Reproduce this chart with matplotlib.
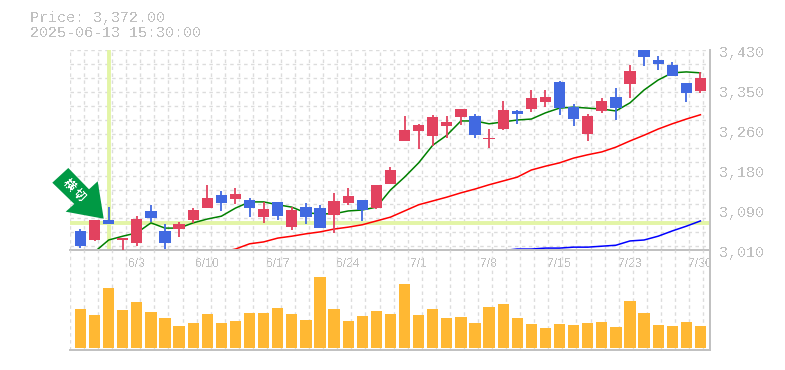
import numpy as np
import matplotlib
matplotlib.use("Agg")
import matplotlib.pyplot as plt
from matplotlib.patches import Polygon
from matplotlib.transforms import Affine2D

plt.rcParams["text.antialiased"] = False

# candles
opens = [3050,3032,3074,3030,3025,3092,3050,3055,3074,3099,3125,3117,3115,3080,3111,
         3059,3100,3098,3083,3109,3115,3098,3149,3239,3260,3249,3270,3289,3291,3243,
         3264,3302,3306,3321,3363,3310,3254,3302,3331,3359,3445,3409,3399,3361,3344]
closes = [3019,3073,3065,3035,3075,3078,3025,3065,3094,3119,3109,3128,3099,3096,3081,
          3094,3079,3056,3113,3123,3094,3146,3178,3262,3272,3289,3279,3306,3251,3245,
          3304,3296,3329,3331,3308,3285,3291,3323,3308,3386,3415,3401,3375,3340,3372]
highs = [3054,3073,3100,3035,3081,3104,3065,3069,3098,3146,3134,3140,3119,3111,3111,
         3101,3109,3105,3130,3140,3115,3146,3184,3291,3275,3294,3291,3306,3296,3264,
         3323,3304,3346,3346,3365,3317,3296,3329,3350,3399,3450,3417,3405,3361,3384]
lows = [3015,3029,3065,3009,3018,3069,3013,3038,3067,3099,3092,3107,3079,3067,3073,
        3052,3065,3056,3046,3105,3071,3096,3149,3239,3222,3228,3245,3272,3245,3224,
        3262,3275,3300,3310,3294,3270,3239,3298,3283,3329,3396,3388,3375,3321,3340]
volumes = [39,33,60,38,46,36,30,22,25,34,25,27,35,35,40,34,28,71,39,27,32,37,34,
           64,33,39,30,31,25,41,44,30,24,20,24,23,25,26,21,47,35,23,22,26,22]

nan = float("nan")
ma_short = [nan,3006,3031,3039,3046,3067,3056,3056,3067,3075,3081,3098,3111,3111,3105,
            3100,3088,3086,3086,3092,3094,3100,3136,3163,3193,3230,3251,3281,3281,3275,
            3279,3283,3285,3298,3308,3310,3308,3306,3302,3319,3346,3367,3382,3384,3382]
ma_mid = [nan]*10 + [3006,3012,3023,3027,3035,3039,3044,3048,3054,3058,3063,3071,3079,3092,
                     3105,3113,3121,3130,3138,3147,3155,3163,3178,3186,3193,3203,3210,
                     3216,3226,3239,3251,3264,3275,3285,3294]
ma_long = [nan]*30 + [3009,3012,3012,3014,3014,3016,3016,3018,3020,3029,3031,3039,3050,3060,3071]

date_pos = [4,9,14,19,24,29,34,39,44]
date_labels = ["6/3","6/10","6/17","6/24","7/1","7/8","7/15","7/23","7/30"]
price_ticks = [3430,3346,3262,3178,3094,3010]
price_labels = ["3,430","3,350","3,260","3,180","3,090","3,010"]
mark_index = 2
mark_price = 3066

W, H = 785, 370
GREY = "#c0c0c0"
GRID = "#dcdcdc"
MONO = "Liberation Mono"

fig = plt.figure(figsize=(W/100, H/100), dpi=100)

def px_axes(x0, y0, x1, y1):
    return fig.add_axes([x0/W, 1-y1/H, (x1-x0)/W, (y1-y0)/H])

ax = px_axes(70, 50, 710, 250)
vol = px_axes(70, 250, 710, 350)
vol.patch.set_alpha(0)

x = np.arange(len(opens))
xlim = (-0.745, 44.68)
grid_x = np.arange(xlim[0], xlim[1], 14.07/14.09)

ax.set_xlim(xlim)
ax.set_ylim(3010, 3430)
vol.set_xlim(xlim)
vol.set_ylim(-2, 98)

for a in (ax, vol):
    for s in ("top", "left"):
        a.spines[s].set_visible(False)
    for s in ("right", "bottom"):
        a.spines[s].set_color(GREY)
        a.spines[s].set_linewidth(1.4)
    a.set_xticks(grid_x, minor=True)
    a.grid(True, which="minor", axis="x", color=GRID, lw=1, ls=(0, (2.5, 2.5)), zorder=0)
    a.tick_params(which="both", length=0)
    a.set_axisbelow(True)
    a.set_yticks([])

# horizontal grid every 14 px
grid_y = np.arange(3430, 3010, -29.4)
for v in grid_y:
    ax.axhline(v, color=GRID, lw=1, ls=(0, (2.5, 2.5)), zorder=0)

ax.axhline(mark_price, color="#e3f5a6", lw=2.8, zorder=1)
ax.axvline(mark_index, color="#e3f5a6", lw=2.8, zorder=1)

ax.plot(x, ma_short, color="#008000", lw=1.1, zorder=2)
ax.plot(x, ma_mid, color="#ff0000", lw=1.1, zorder=2)
ax.plot(x, ma_long, color="#0000ff", lw=1.1, zorder=2)

colors = ["#e2425f" if c >= o else "#4169e1" for o, c in zip(opens, closes)]
ax.vlines(x, lows, highs, colors=colors, lw=1.3, zorder=3)
ax.bar(x, np.abs(np.array(closes)-np.array(opens)), bottom=np.minimum(opens, closes),
       width=0.8, color=colors, zorder=3, antialiased=False)

vol.bar(x, volumes, width=0.8, color="#ffb833", zorder=3, antialiased=False)

ax.set_xticks(date_pos)
ax.set_xticklabels(date_labels, fontfamily="Liberation Sans", fontsize=8.8, color=GREY)
ax.tick_params(axis="x", which="major", pad=6)
vol.set_xticks([])

for v, lab in zip(price_ticks, price_labels):
    ax.annotate(lab, (1, v), xycoords=("axes fraction", "data"), xytext=(9, -3),
                textcoords="offset pixels", va="center", ha="left",
                fontfamily=MONO, fontsize=10.8, color=GREY, annotation_clip=False)

fig.text(30/W, 1-18/H, "Price: 3,372.00", fontfamily=MONO, fontsize=10.8, color=GREY, va="center")
fig.text(30/W, 1-33/H, "2025-06-13 15:30:00", fontfamily=MONO, fontsize=10.8, color=GREY, va="center")

# green arrow sign
arrow = [(52.3,182.7),(68.3,168),(89,189.3),(97.7,181.3),(103.7,218.7),(65.7,211.7),(74.3,204)]
to_fig = Affine2D().scale(1, -1).translate(0, H)
fig.add_artist(Polygon(arrow, closed=True, color="#009944", lw=0, transform=to_fig, zorder=5))
for ch, (cx, cy) in zip("横切", [(69, 185), (79, 195)]):
    fig.text(cx/W, 1-cy/H, ch, color="white", fontsize=8.6, fontweight="bold", rotation=-45,
             rotation_mode="anchor", ha="center", va="center",
             fontfamily=["Noto Sans CJK JP", "DejaVu Sans"], zorder=6)

fig.savefig("out.png", dpi=100)
